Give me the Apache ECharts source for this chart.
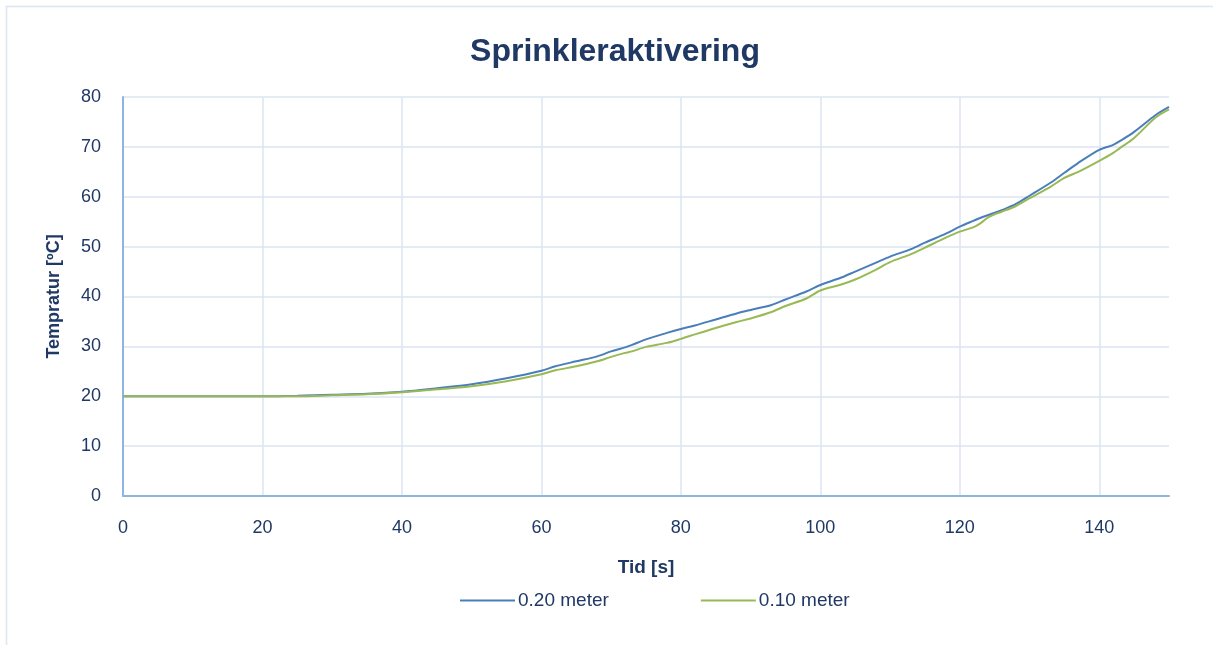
<!DOCTYPE html>
<html><head><meta charset="utf-8">
<script src="https://cdn.jsdelivr.net/npm/echarts@6/dist/echarts.min.js"></script>
<style>html,body{margin:0;padding:0;background:#fff}#c{width:1213px;height:645px}</style>
</head><body><div id="c"></div>
<script>
var times = [0,5,10,15,20,25,30,35,40,45,50,55,60,62,65,68,70,72,73,75,78,80,82,85,88,90,93,95,98,100,103,105,108,110,113,115,118,120,122,123,124,125,126,128,130,133,135,137,140,142,143,145,148,150];
var blue = [20,20,20,20,20,20.1,20.3,20.5,20.9,21.6,22.4,23.6,25.1,26,27,28,29,29.8,30.3,31.4,32.7,33.5,34.2,35.4,36.6,37.3,38.3,39.4,41,42.3,43.8,45,46.8,48,49.5,50.8,52.6,54,55.2,55.8,56.3,56.8,57.3,58.5,60.2,62.8,64.8,66.8,69.4,70.4,71.2,73,76.3,78];
var green = [20,20,20,20,20,20,20.2,20.4,20.8,21.4,22,23,24.4,25.2,26,27,27.9,28.7,29,29.9,30.7,31.5,32.4,33.7,34.9,35.6,36.9,38.1,39.6,41.2,42.4,43.4,45.4,46.9,48.5,49.8,51.8,53,53.9,54.7,55.8,56.5,57,58.1,59.7,62,63.8,65,67.2,68.8,69.8,71.8,75.8,77.5];
var yTicks = [0,10,20,30,40,50,60,70,80];
var xTicks = [0,20,40,60,80,100,120,140];
var seriesNames = ['0.20 meter','0.10 meter'];

function pairs(xs, ys){ return xs.map(function(x,i){ return [x, ys[i]]; }); }

var txt = '#1f3864';
var font = '"Liberation Sans", "Open Sans", sans-serif';
var chart = echarts.init(document.getElementById('c'), null, {renderer:'canvas'});
chart.setOption({
  animation:false,
  backgroundColor:'#fff',
  graphic:[{type:'rect', silent:true, z:-10, shape:{x:6.5,y:6.5,width:1230,height:700}, style:{fill:'none', stroke:'#dce6f2', lineWidth:1.5}}],
  title:{text:'Sprinkleraktivering', left:610, top:31, textAlign:'center',
    textStyle:{color:txt, fontSize:32, fontWeight:'bold', fontFamily:font}},
  legend:{bottom:30, left:455, itemGap:92, itemWidth:55, itemHeight:2, icon:'rect',
    data:seriesNames,
    textStyle:{color:txt, fontSize:19, fontFamily:font, padding:[0,0,0,-2]}},
  grid:{left:123, right:44, top:97, bottom:149, containLabel:false},
  xAxis:{type:'value', min:0, max:150, interval:20,
    name:'Tid [s]', nameLocation:'middle', nameGap:62,
    nameTextStyle:{color:txt, fontSize:19, fontWeight:'bold', fontFamily:font},
    axisLine:{show:true, onZero:false, lineStyle:{color:'#8eb4e3', width:2}},
    axisTick:{show:false},
    axisLabel:{color:txt, fontSize:18, fontFamily:font, margin:23,
      showMaxLabel:false,
      formatter:function(v){ return xTicks.indexOf(v) >= 0 ? String(v) : ''; }},
    splitLine:{show:true, showMaxLine:false, lineStyle:{color:'#dbe5f1', width:1.5}}},
  yAxis:{type:'value', min:0, max:80, interval:10,
    name:'Tempratur [ºC]', nameLocation:'middle', nameGap:60, nameRotate:90,
    nameTextStyle:{color:txt, fontSize:18, fontWeight:'bold', fontFamily:font},
    axisLine:{show:true, lineStyle:{color:'#8eb4e3', width:2}},
    axisTick:{show:false},
    axisLabel:{color:txt, fontSize:18, fontFamily:font, margin:22,
      formatter:function(v){ return yTicks.indexOf(v) >= 0 ? String(v) : ''; }},
    splitLine:{show:true, lineStyle:{color:'#dbe5f1', width:1.5}}},
  series:[
    {name:seriesNames[0], type:'line', data:pairs(times, blue), showSymbol:false, smooth:0.3,
      lineStyle:{color:'#4a7ebb', width:2}, itemStyle:{color:'#4a7ebb'}},
    {name:seriesNames[1], type:'line', data:pairs(times, green), showSymbol:false, smooth:0.3,
      lineStyle:{color:'#98b954', width:2}, itemStyle:{color:'#98b954'}}
  ]
});
</script></body></html>
